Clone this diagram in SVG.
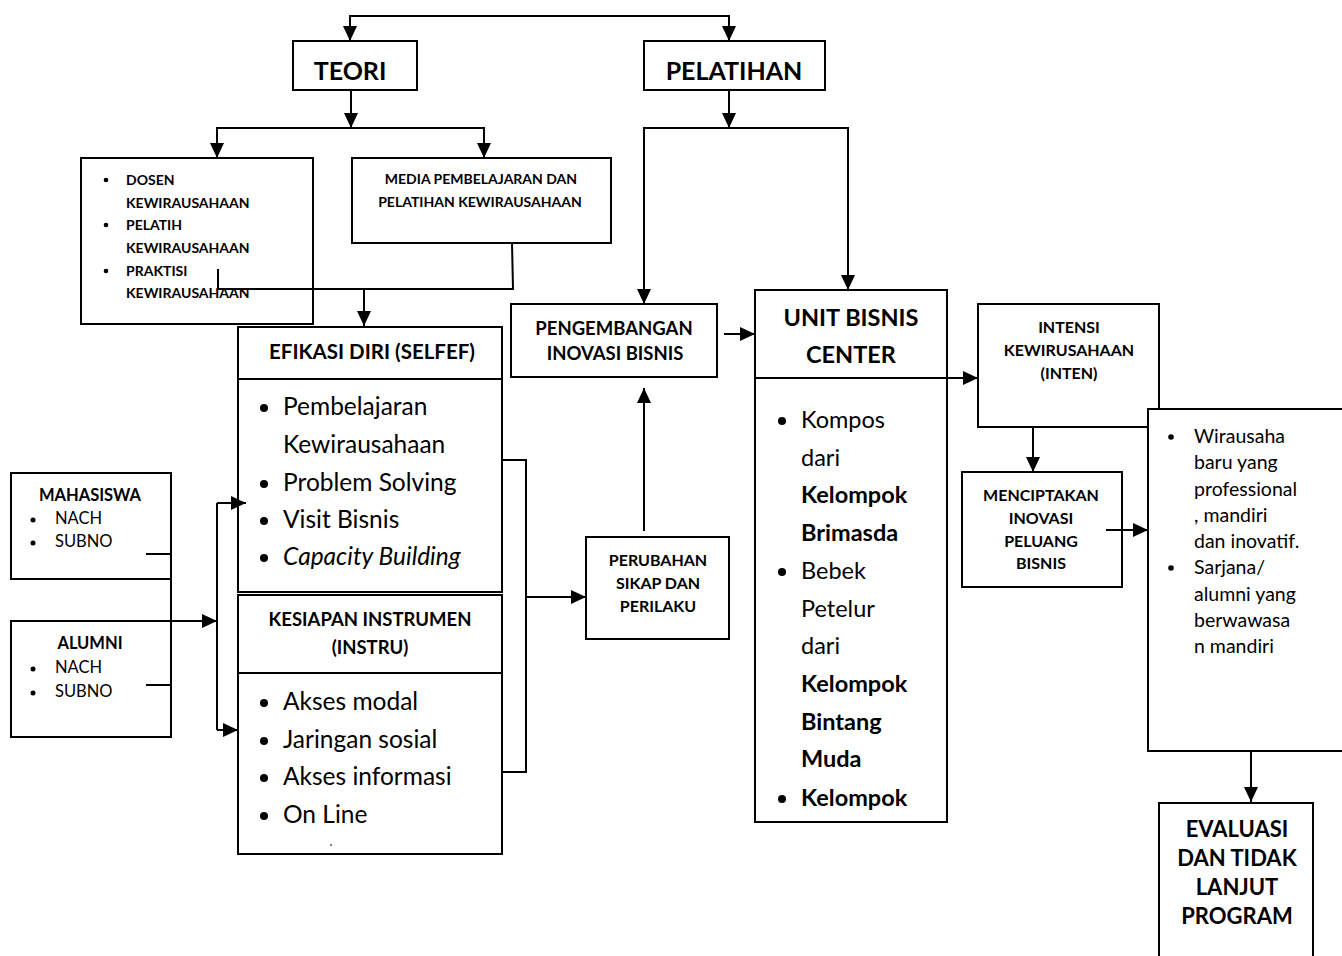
<svg xmlns="http://www.w3.org/2000/svg" width="1342" height="956" viewBox="0 0 1342 956">
<style>
.box{fill:#fff;stroke:#000;stroke-width:2}
.ln{fill:none;stroke:#000;stroke-width:2}
.arr{fill:none;stroke:#000;stroke-width:2;marker-end:url(#ah)}
.t{font-family:Lato,"Liberation Sans",sans-serif;fill:#000}
.b{font-weight:bold}
.c{text-anchor:middle}
.dot{fill:#000}
</style>
<defs>
<marker id="ah" markerUnits="userSpaceOnUse" markerWidth="15" markerHeight="14" refX="15" refY="7" orient="auto">
<path d="M0,0 L15,7 L0,14 z" fill="#000"/>
</marker>
<clipPath id="ubClip"><rect x="755" y="378" width="192" height="434"/></clipPath>
</defs>

<g id="teori">
<rect class="box" x="293" y="41" width="124" height="49"/>
<text class="t b c" x="350" y="80" font-size="25">TEORI</text>
</g>
<g id="pelatihan">
<rect class="box" x="644" y="41" width="181" height="49"/>
<text class="t b c" x="734" y="80" font-size="25">PELATIHAN</text>
</g>

<g id="dosen">
<rect class="box" x="81" y="158" width="232" height="166"/>
<g class="t b" font-size="14">
<circle class="dot" cx="106" cy="180" r="2.3"/>
<text x="126" y="185">DOSEN</text>
<text x="126" y="208">KEWIRAUSAHAAN</text>
<circle class="dot" cx="106" cy="225" r="2.3"/>
<text x="126" y="230">PELATIH</text>
<text x="126" y="253">KEWIRAUSAHAAN</text>
<circle class="dot" cx="106" cy="271" r="2.3"/>
<text x="126" y="276">PRAKTISI</text>
<text x="126" y="298">KEWIRAUSAHAAN</text>
</g>
</g>

<g id="media">
<rect class="box" x="352" y="158" width="259" height="85"/>
<text class="t b c" x="481" y="184" font-size="14">MEDIA PEMBELAJARAN DAN</text>
<text class="t b c" x="480" y="207" font-size="14">PELATIHAN KEWIRAUSAHAAN</text>
</g>

<g id="efikasi">
<rect class="box" x="238" y="327" width="264" height="265"/>
<line class="ln" x1="238" y1="379" x2="502" y2="379"/>
<text class="t b c" x="372" y="359" font-size="20.5">EFIKASI DIRI (SELFEF)</text>
<g class="t" font-size="24.5">
<circle class="dot" cx="264" cy="408" r="4"/>
<text x="283" y="415">Pembelajaran</text>
<text x="283" y="453">Kewirausahaan</text>
<circle class="dot" cx="264" cy="484" r="4"/>
<text x="283" y="491">Problem Solving</text>
<circle class="dot" cx="264" cy="521" r="4"/>
<text x="283" y="528">Visit Bisnis</text>
<circle class="dot" cx="264" cy="558" r="4"/>
<text x="283" y="565" font-style="italic">Capacity Building</text>
</g>
</g>

<g id="kesiapan">
<rect class="box" x="238" y="595" width="264" height="259"/>
<line class="ln" x1="238" y1="673" x2="502" y2="673"/>
<text class="t b c" x="370" y="626" font-size="18.5">KESIAPAN INSTRUMEN</text>
<text class="t b c" x="370" y="654" font-size="18.5">(INSTRU)</text>
<g class="t" font-size="24.5">
<circle class="dot" cx="264" cy="703" r="4"/>
<text x="283" y="710">Akses modal</text>
<circle class="dot" cx="264" cy="741" r="4"/>
<text x="283" y="748">Jaringan sosial</text>
<circle class="dot" cx="264" cy="778" r="4"/>
<text x="283" y="785">Akses informasi</text>
<circle class="dot" cx="264" cy="816" r="4"/>
<text x="283" y="823">On Line</text>
</g>
<line x1="330" y1="845" x2="332" y2="845" stroke="#000" stroke-width="1"/>
</g>

<g id="mahasiswa">
<rect class="box" x="11" y="473" width="160" height="106"/>
<text class="t b c" x="90" y="501" font-size="16.5">MAHASISWA</text>
<circle class="dot" cx="33" cy="520" r="2.5"/>
<text class="t" x="55" y="524" font-size="16.5">NACH</text>
<circle class="dot" cx="33" cy="543" r="2.5"/>
<text class="t" x="55" y="547" font-size="16.5">SUBNO</text>
</g>

<g id="alumni">
<rect class="box" x="11" y="621" width="160" height="116"/>
<text class="t b c" x="90" y="649" font-size="16.5">ALUMNI</text>
<circle class="dot" cx="33" cy="669" r="2.5"/>
<text class="t" x="55" y="673" font-size="16.5">NACH</text>
<circle class="dot" cx="33" cy="693" r="2.5"/>
<text class="t" x="55" y="697" font-size="16.5">SUBNO</text>
</g>

<g id="pengembangan">
<rect class="box" x="511" y="304" width="206" height="73"/>
<text class="t b c" x="614" y="335" font-size="18.5">PENGEMBANGAN</text>
<text class="t b c" x="615" y="360" font-size="18.5">INOVASI BISNIS</text>
</g>

<g id="perubahan">
<rect class="box" x="586" y="537" width="143" height="102"/>
<text class="t b c" x="658" y="566" font-size="16">PERUBAHAN</text>
<text class="t b c" x="658" y="589" font-size="16">SIKAP DAN</text>
<text class="t b c" x="658" y="612" font-size="16">PERILAKU</text>
</g>

<g id="unitbisnis">
<rect class="box" x="755" y="290" width="192" height="532"/>
<line class="ln" x1="755" y1="378" x2="947" y2="378"/>
<text class="t b c" x="851" y="326" font-size="23.5">UNIT BISNIS</text>
<text class="t b c" x="851" y="363" font-size="23.5">CENTER</text>
<g class="t" font-size="23.5" clip-path="url(#ubClip)">
<circle class="dot" cx="782" cy="421" r="4"/>
<text x="801" y="428">Kompos</text>
<text x="801" y="466">dari</text>
<text x="801" y="503" font-weight="bold">Kelompok</text>
<text x="801" y="541" font-weight="bold">Brimasda</text>
<circle class="dot" cx="782" cy="572" r="4"/>
<text x="801" y="579">Bebek</text>
<text x="801" y="617">Petelur</text>
<text x="801" y="654">dari</text>
<text x="801" y="692" font-weight="bold">Kelompok</text>
<text x="801" y="730" font-weight="bold">Bintang</text>
<text x="801" y="767" font-weight="bold">Muda</text>
<circle class="dot" cx="782" cy="799" r="4"/>
<text x="801" y="806" font-weight="bold">Kelompok</text>
</g>
</g>

<g id="intensi">
<rect class="box" x="978" y="304" width="181" height="123"/>
<text class="t b c" x="1069" y="333" font-size="16">INTENSI</text>
<text class="t b c" x="1069" y="356" font-size="16">KEWIRUSAHAAN</text>
<text class="t b c" x="1069" y="379" font-size="16">(INTEN)</text>
</g>

<g id="menciptakan">
<rect class="box" x="962" y="472" width="160" height="115"/>
<text class="t b c" x="1041" y="501" font-size="16">MENCIPTAKAN</text>
<text class="t b c" x="1041" y="524" font-size="16">INOVASI</text>
<text class="t b c" x="1041" y="547" font-size="16">PELUANG</text>
<text class="t b c" x="1041" y="569" font-size="16">BISNIS</text>
</g>

<g id="hasil">
<rect class="box" x="1148" y="409" width="210" height="342"/>
<g class="t" font-size="19.5">
<circle class="dot" cx="1171" cy="437" r="2.8"/>
<text x="1194" y="443">Wirausaha</text>
<text x="1194" y="469">baru yang</text>
<text x="1194" y="496">professional</text>
<text x="1194" y="522">, mandiri</text>
<text x="1194" y="548">dan inovatif.</text>
<circle class="dot" cx="1171" cy="568" r="2.8"/>
<text x="1194" y="574">Sarjana/</text>
<text x="1194" y="601">alumni yang</text>
<text x="1194" y="627">berwawasa</text>
<text x="1194" y="653">n mandiri</text>
</g>
</g>

<g id="evaluasi">
<path class="ln" d="M1159,960 V803 H1313 V960" fill="#fff"/>
<text class="t b c" x="1237" y="837" font-size="22">EVALUASI</text>
<text class="t b c" x="1237" y="866" font-size="22">DAN TIDAK</text>
<text class="t b c" x="1237" y="895" font-size="22">LANJUT</text>
<text class="t b c" x="1237" y="924" font-size="22">PROGRAM</text>
</g>

<g id="connectors">
<path class="ln" d="M350,16 H729"/>
<path class="arr" d="M350,15 V41"/>
<path class="arr" d="M729,15 V41"/>
<path class="arr" d="M351,90 V128"/>
<path class="ln" d="M217,128 H484"/>
<path class="arr" d="M217,127 V158"/>
<path class="arr" d="M484,127 V158"/>
<path class="arr" d="M729,90 V128"/>
<path class="ln" d="M644,128 H848"/>
<path class="arr" d="M644,127 V304"/>
<path class="arr" d="M848,127 V290"/>
<path class="ln" d="M512,243 L513,289 H218 V269"/>
<path class="arr" d="M364,289 V326"/>
<path class="arr" d="M724,334 H755"/>
<path class="arr" d="M644,531 V388"/>
<path class="ln" d="M502,460 H526 V772 H502"/>
<path class="arr" d="M526,597 H586"/>
<path class="arr" d="M947,378 H978"/>
<path class="arr" d="M1033,427 V472"/>
<path class="arr" d="M1106,530 H1148"/>
<path class="arr" d="M1251,751 V802"/>
<path class="ln" d="M146,554 H171 V685 H146"/>
<path class="arr" d="M171,621 H217"/>
<path class="ln" d="M217,503 V730"/>
<path class="arr" d="M217,503 H246"/>
<path class="arr" d="M217,730 H238"/>
</g>
</svg>
